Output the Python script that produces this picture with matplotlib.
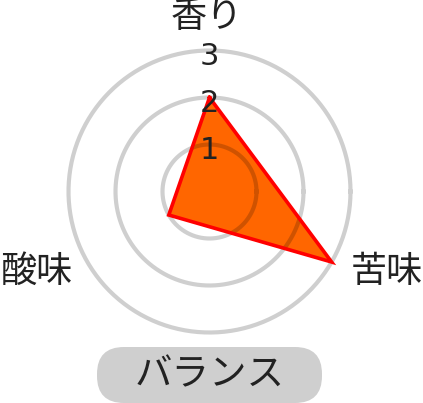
import numpy as np
import matplotlib
matplotlib.use("Agg")
import matplotlib.pyplot as plt
from matplotlib.patches import FancyBboxPatch

plt.rcParams['font.family'] = ['Noto Sans CJK JP', 'DejaVu Sans']

categories = ['香り', '苦味', '酸味']
values = [2, 3, 1]
angles_deg = [90, -30, 210]
ring_levels = [1, 2, 3]
tick_labels = ['1', '2', '3']
badge_text = 'バランス'

W, H = 423, 403
fig = plt.figure(figsize=(W / 100, H / 100), dpi=100)

# background axes in pixel units for labels and the badge
bg = fig.add_axes([0, 0, 1, 1])
bg.set_xlim(0, W)
bg.set_ylim(H, 0)
bg.axis('off')

# radar in a polar axes, centre (209.5, 191.5) px, r=3 -> 141 px
cx, cy, r3 = 209.5, 191.5, 141.0
rmax = 3.2
rad = r3 * rmax / 3
ax = fig.add_axes([(cx - rad) / W, (H - cy - rad) / H, 2 * rad / W, 2 * rad / H],
                  projection='polar')
ax.set_ylim(0, rmax)
ax.grid(False)
ax.spines['polar'].set_visible(False)
ax.set_xticks([])
ax.set_yticks([])
ax.patch.set_alpha(0)

theta = np.deg2rad(angles_deg)
th_closed = np.append(theta, theta[0])
v_closed = np.append(values, values[0])

ax.fill(th_closed, v_closed, color='#ff6600', zorder=1)

t = np.linspace(0, 2 * np.pi, 400)
for lv in ring_levels:
    ax.plot(t, np.full_like(t, lv), color='black', alpha=0.19, lw=3.0, zorder=2)

ax.plot(th_closed, v_closed, color='#ff0000', lw=2.6, zorder=3, solid_joinstyle='miter')

for lv, lab in zip(ring_levels, tick_labels):
    ax.text(np.pi / 2, lv - 0.12, lab, ha='center', va='center', fontsize=22,
            family='DejaVu Sans', color='#222222', zorder=4)

# axis labels
label_pos = {'香り': (207, 17), '苦味': (387, 272), '酸味': (36, 272)}
for name in categories:
    x, y = label_pos[name]
    bg.text(x, y, name, ha='center', va='center', fontsize=26, color='#222222')

# badge at the bottom
pill = FancyBboxPatch((97, 347), 225, 56, boxstyle='round,pad=0,rounding_size=27',
                      fc='#cfcfcf', ec='none')
bg.add_patch(pill)
bg.text(209.5, 375, badge_text, ha='center', va='center', fontsize=27, color='#222222')

fig.savefig('out.png', dpi=100)
